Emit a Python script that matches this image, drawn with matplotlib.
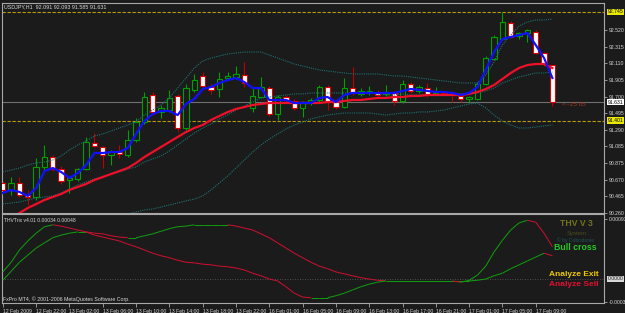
import matplotlib
matplotlib.use("Agg")
import matplotlib.pyplot as plt
from matplotlib.collections import LineCollection
from matplotlib.patches import Rectangle
import numpy as np

plt.rcParams['font.family'] = ['Liberation Sans', 'DejaVu Sans']

# USDJPY H1, one bar per hour, 12 Feb 2009 18:00 .. 17 Feb 2009 11:00
opens = [90.631, 90.545, 90.631, 90.483, 90.458, 90.829, 90.952, 90.804, 90.668, 90.681,
         90.804, 91.126, 91.076, 90.977, 91.014, 90.977, 91.163, 91.385, 91.719, 91.508,
         91.533, 91.707, 91.311, 91.781, 91.954, 91.818, 91.793, 91.929, 91.941, 91.966,
         91.558, 91.694, 91.805, 91.484, 91.694, 91.645, 91.558, 91.620, 91.657, 91.818,
         91.632, 91.570, 91.805, 91.732, 91.744, 91.756, 91.732, 91.744, 91.645, 91.855,
         91.769, 91.805, 91.744, 91.756, 91.744, 91.707, 91.670, 91.670, 91.855, 92.164,
         92.411, 92.609, 92.448, 92.485, 92.497, 92.238, 92.091]
highs = [90.656, 90.705, 90.705, 90.545, 90.940, 91.101, 90.977, 90.841, 90.705, 90.816,
         91.200, 91.249, 91.089, 91.039, 91.101, 91.286, 91.434, 91.756, 91.756, 91.595,
         91.781, 91.732, 91.855, 91.979, 92.003, 91.855, 92.003, 92.003, 92.077, 92.126,
         91.818, 91.941, 91.830, 91.719, 91.719, 91.670, 91.645, 91.682, 91.842, 91.842,
         91.657, 91.929, 92.065, 91.805, 91.830, 91.781, 91.842, 91.769, 91.904, 91.879,
         91.842, 91.867, 91.818, 91.769, 91.769, 91.732, 91.707, 91.879, 92.201, 92.460,
         92.745, 92.634, 92.497, 92.535, 92.522, 92.250, 92.093]
lows = [90.520, 90.483, 90.458, 90.359, 90.421, 90.792, 90.779, 90.619, 90.508, 90.656,
        90.792, 91.076, 90.816, 90.853, 90.940, 90.952, 91.138, 91.360, 91.471, 91.434,
        91.508, 91.261, 91.286, 91.756, 91.805, 91.732, 91.694, 91.904, 91.917, 91.818,
        91.508, 91.682, 91.459, 91.410, 91.632, 91.533, 91.447, 91.595, 91.632, 91.533,
        91.546, 91.558, 91.719, 91.707, 91.719, 91.694, 91.707, 91.595, 91.620, 91.744,
        91.744, 91.694, 91.719, 91.732, 91.632, 91.632, 91.620, 91.657, 91.842, 92.151,
        92.399, 92.423, 92.411, 92.374, 92.226, 92.077, 91.585]
closes = [90.545, 90.631, 90.483, 90.458, 90.829, 90.952, 90.804, 90.656, 90.693, 90.804,
          91.138, 91.089, 90.977, 91.014, 90.990, 91.163, 91.385, 91.694, 91.508, 91.558,
          91.682, 91.311, 91.805, 91.904, 91.830, 91.781, 91.917, 91.954, 91.979, 91.867,
          91.707, 91.818, 91.484, 91.694, 91.657, 91.558, 91.620, 91.657, 91.818, 91.632,
          91.570, 91.805, 91.744, 91.769, 91.769, 91.719, 91.756, 91.645, 91.855, 91.769,
          91.818, 91.719, 91.756, 91.744, 91.732, 91.670, 91.694, 91.855, 92.176, 92.436,
          92.621, 92.436, 92.485, 92.522, 92.238, 92.102, 91.631]

# moving averages (blue fast, red slow)
ma_fast = [90.508, 90.545, 90.520, 90.471, 90.569, 90.779, 90.816, 90.767, 90.693, 90.755,
           90.853, 91.002, 91.002, 91.014, 91.014, 91.064, 91.237, 91.398, 91.484, 91.521,
           91.521, 91.471, 91.608, 91.670, 91.793, 91.818, 91.867, 91.904, 91.929, 91.879,
           91.805, 91.805, 91.657, 91.657, 91.657, 91.620, 91.620, 91.620, 91.682, 91.694,
           91.632, 91.719, 91.744, 91.744, 91.744, 91.744, 91.744, 91.744, 91.769, 91.793,
           91.781, 91.769, 91.756, 91.756, 91.744, 91.719, 91.744, 91.818, 92.028, 92.250,
           92.411, 92.436, 92.460, 92.485, 92.337, 92.176, 91.929]
ma_slow = [90.149, 90.199, 90.260, 90.322, 90.371, 90.421, 90.458, 90.495, 90.545, 90.582,
           90.619, 90.668, 90.705, 90.742, 90.779, 90.816, 90.878, 90.952, 91.014, 91.076,
           91.138, 91.200, 91.261, 91.311, 91.348, 91.410, 91.459, 91.508, 91.546, 91.570,
           91.595, 91.608, 91.620, 91.620, 91.620, 91.620, 91.620, 91.620, 91.620, 91.632,
           91.632, 91.645, 91.657, 91.657, 91.670, 91.682, 91.682, 91.694, 91.694, 91.707,
           91.707, 91.719, 91.719, 91.719, 91.719, 91.719, 91.732, 91.756, 91.793, 91.842,
           91.917, 91.991, 92.053, 92.089, 92.102, 92.102, 92.053]

# bollinger bands
bb_upper = [90.767, 90.792, 90.816, 90.853, 90.878, 90.891, 90.915, 90.965, 91.039, 91.101,
            91.150, 91.212, 91.237, 91.274, 91.311, 91.348, 91.385, 91.471, 91.533, 91.595,
            91.682, 91.805, 91.929, 92.053, 92.139, 92.176, 92.201, 92.226, 92.238, 92.250,
            92.250, 92.250, 92.213, 92.176, 92.139, 92.102, 92.077, 92.053, 92.028, 92.016,
            92.003, 91.991, 91.979, 91.979, 91.979, 91.979, 91.966, 91.954, 91.954, 91.941,
            91.929, 91.917, 91.904, 91.892, 91.879, 91.867, 91.867, 91.867, 91.966, 92.127,
            92.337, 92.460, 92.572, 92.621, 92.646, 92.646, 92.658]
bb_mid = [90.371, 90.384, 90.396, 90.421, 90.446, 90.458, 90.471, 90.508, 90.557, 90.606,
          90.644, 90.681, 90.705, 90.742, 90.767, 90.804, 90.829, 90.891, 90.928, 90.965,
          91.027, 91.101, 91.175, 91.249, 91.311, 91.360, 91.422, 91.471, 91.533, 91.583,
          91.632, 91.682, 91.694, 91.707, 91.719, 91.732, 91.732, 91.744, 91.744, 91.744,
          91.744, 91.744, 91.744, 91.744, 91.744, 91.732, 91.719, 91.719, 91.732, 91.719,
          91.719, 91.719, 91.719, 91.719, 91.719, 91.732, 91.744, 91.744, 91.769, 91.805,
          91.867, 91.904, 91.941, 91.966, 91.991, 91.991, 92.003]
bb_lower = [89.976, 89.976, 89.976, 89.988, 90.001, 90.013, 90.025, 90.050, 90.075, 90.100,
            90.124, 90.149, 90.174, 90.199, 90.223, 90.248, 90.273, 90.297, 90.310, 90.334,
            90.359, 90.384, 90.409, 90.433, 90.471, 90.545, 90.631, 90.718, 90.816, 90.915,
            91.014, 91.101, 91.175, 91.237, 91.299, 91.348, 91.385, 91.422, 91.447, 91.471,
            91.484, 91.496, 91.496, 91.496, 91.496, 91.484, 91.471, 91.484, 91.496, 91.496,
            91.509, 91.509, 91.521, 91.533, 91.558, 91.583, 91.608, 91.620, 91.558, 91.471,
            91.397, 91.348, 91.311, 91.311, 91.323, 91.336, 91.348]

# THVTrix lines, in units of 1e-5
trix_fast = [11, 26, 45, 59, 71, 81, 84, 82, 79, 76, 73, 68, 65, 62, 59, 54, 50, 45, 40, 36,
             33, 29, 26, 25, 23, 22, 20, 19, 17, 14, 9, 5, 0, -3, -12, -22, -28, -29, -29, -29,
             -26, -22, -17, -12, -8, -5, -3, -3, -3, -3, -3, -3, -3, -3, -3, -5, -2, 6, 20, 42,
             60, 76, 87, 91, 88, 71, 50]
trix_slow = [-2, 12, 26, 37, 48, 56, 64, 68, 71, 73, 73, 71, 70, 67, 65, 64, 64, 67, 70, 74,
             78, 81, 82, 84, 84, 84, 84, 84, 82, 79, 76, 70, 64, 56, 48, 40, 33, 26, 20, 16,
             11, 8, 5, 2, 0, -2, -3, -3, -3, -3, -3, -3, -3, -3, -3, -3, -3, -2, 0, 5,
             9, 16, 22, 28, 34, 40, 36]

time_labels = ['12 Feb 2009', '12 Feb 22:00', '13 Feb 02:00', '13 Feb 06:00', '13 Feb 10:00',
               '13 Feb 14:00', '13 Feb 18:00', '13 Feb 22:00', '16 Feb 01:00', '16 Feb 05:00',
               '16 Feb 09:00', '16 Feb 13:00', '16 Feb 17:00', '16 Feb 21:00', '17 Feb 01:00',
               '17 Feb 05:00', '17 Feb 09:00']
price_ticks = [92.520, 92.315, 92.110, 91.905, 91.700, 91.495, 91.290, 91.085,
               90.875, 90.670, 90.465, 90.260]
high_line = 92.745
low_line = 91.401
last_price = 91.631

W, H = 625, 313
BG = '#1b1b1b'
FRAME = '#a8a8a8'
TXT = '#d8d8d8'
UP = '#00a000'
DOWN = '#e00000'
SMALL = 3.7


def fx(px):
    return px / W


def fy(py):
    return 1 - py / H


def colored_line(axis, xs, ys, up, down, lw):
    pts = np.column_stack([xs, ys])
    segs = np.stack([pts[:-1], pts[1:]], axis=1)
    cols = [up if b >= a else down for a, b in zip(ys[:-1], ys[1:])]
    axis.add_collection(LineCollection(segs, colors=cols, linewidths=lw, zorder=3))


fig = plt.figure(figsize=(W / 100, H / 100), dpi=100, facecolor=BG)
ax = fig.add_axes([fx(2), fy(213), fx(602), 210 / H], facecolor=BG)
sub = fig.add_axes([fx(2), fy(303), fx(602), 89 / H], facecolor=BG)

x = np.arange(len(closes))
for a in (ax, sub):
    a.set_xlim(-0.1, 72.2)
    for s in a.spines.values():
        s.set_color(FRAME)
        s.set_linewidth(0.8)
    a.yaxis.tick_right()
    a.tick_params(axis='y', colors=FRAME, labelcolor=TXT, labelsize=SMALL, length=2,
                  width=0.6, pad=1.5)

# ---- price pane
ax.set_xticks([])
ax.set_ylim(90.260, 92.856)
ax.set_yticks(price_ticks)
ax.set_yticklabels(['%.3f' % p for p in price_ticks])

ax.axhline(high_line, color='#b89c00', lw=0.8, ls=(0, (3, 1.5)), zorder=1)
ax.axhline(low_line, color='#b89c00', lw=0.8, ls=(0, (3, 1.5)), zorder=1)
ax.axhline(last_price, color='#707070', lw=0.8, zorder=1)

for i in x:
    o, h, l, c = opens[i], highs[i], lows[i], closes[i]
    bull = c >= o
    ax.vlines(i, l, h, color=UP if bull else '#c00000', lw=0.8, zorder=2)
    ax.add_patch(Rectangle((i - 0.32, min(o, c)), 0.64, max(abs(c - o), 0.004),
                           facecolor=BG if bull else 'white',
                           edgecolor=UP if bull else DOWN, lw=0.8, zorder=3))

for band in (bb_upper, bb_mid, bb_lower):
    ax.plot(x, band, color='#1f7070', lw=0.8, ls=(0, (1, 1)), zorder=4)
ax.plot(x, ma_slow, color='#ee1028', lw=1.6, zorder=5)
ax.plot(x, ma_fast, color='#1010ff', lw=1.6, zorder=6)

ytr = ax.get_yaxis_transform()
for val, txt, face in ((high_line, '92.745', '#e8e800'), (last_price, '91.631', 'white'),
                       (low_line, '91.401', '#e8e800')):
    ax.text(1.006, val, txt, transform=ytr, fontsize=SMALL, color='black', va='center',
            ha='left', bbox=dict(facecolor=face, edgecolor='none', pad=0.6), clip_on=False)

fig.text(fx(4), fy(7), 'USDJPY,H1  92.091 92.093 91.585 91.631', color=TXT, fontsize=3.9,
         va='center')
fig.text(fx(562), fy(105), '<--25 05', color='#a83a20', fontsize=4.5, va='center')

# ---- THVTrix pane
scale = 1e-5
sub.set_ylim(-0.000372, 0.0010075)
sub.set_yticks([0.00093, -0.00036])
sub.set_yticklabels(['0.00093', '-0.00036'])
sub.axhline(0, color='#606060', lw=0.6, ls=(0, (1, 2)), zorder=1)
colored_line(sub, x, np.array(trix_slow) * scale, '#119911', '#c8102e', 0.75)
colored_line(sub, x, np.array(trix_fast) * scale, '#119911', '#c8102e', 0.75)
sub.text(1.006, 0, '0.0000', transform=sub.get_yaxis_transform(), fontsize=SMALL,
         color='#202020', va='center', ha='left',
         bbox=dict(facecolor='#d8d8d8', edgecolor='none', pad=0.6), clip_on=False)

sub.set_xticks(range(0, 4 * len(time_labels), 4))
sub.set_xticklabels(time_labels, ha='left')
sub.tick_params(axis='x', colors=FRAME, labelcolor=TXT, labelsize=3.7, length=3, width=0.6,
                pad=1)

fig.text(fx(4), fy(220), 'THVTrix v4.01 0.00034 0.00048', color=TXT, fontsize=3.6,
         va='center')
fig.text(fx(3), fy(299), 'FxPro MT4, \u00a9 2001-2006 MetaQuotes Software Corp.', color=TXT,
         fontsize=3.8, va='center')

fig.text(fx(576), fy(224), 'THV V 3', color='#74741c', fontsize=6.2, fontweight='bold',
         ha='center', va='center')
fig.text(fx(577), fy(233), 'System', color='#4c4c1c', fontsize=4.3, ha='center', va='center')
fig.text(fx(576), fy(240), '\u00a9 by Cobraforex', color='#1e5656', fontsize=3.6,
         ha='center', va='center')
fig.text(fx(575), fy(248), 'Bull cross', color='#22cc22', fontsize=6.3, fontweight='bold',
         ha='center', va='center')
fig.text(fx(574), fy(274), 'Analyze Exit', color='#ecc800', fontsize=6, fontweight='bold',
         ha='center', va='center')
fig.text(fx(574), fy(284), 'Analyze Sell', color='#e01030', fontsize=6, fontweight='bold',
         ha='center', va='center')

fig.savefig('out.png', dpi=100, facecolor=BG)
